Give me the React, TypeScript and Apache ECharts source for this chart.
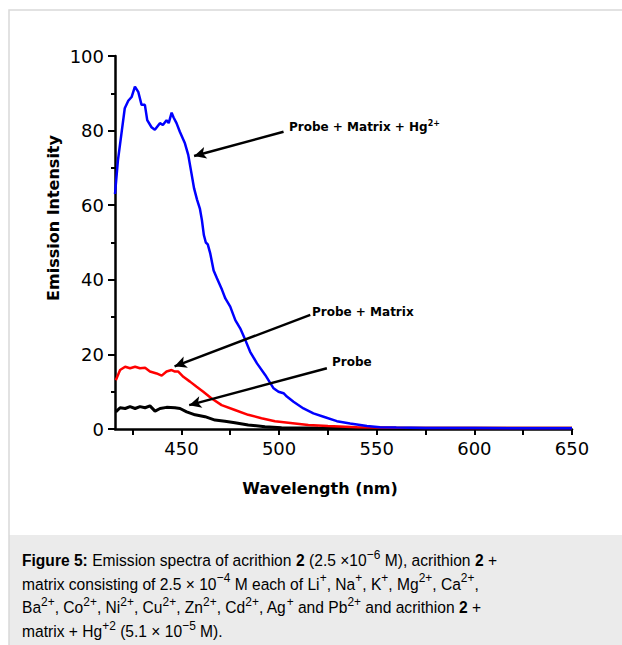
import React, { useEffect, useRef } from "react";
import * as echarts from "echarts";

// Probe + Matrix + Hg2+ (blue)
const hgWavelength = [416, 417.5, 419.5, 421, 422.8, 424.5, 426.2, 427.9, 429.6, 431.3, 432.5, 434.7, 436.4, 439, 440.5, 442.4, 443.5, 445, 446, 447.5, 449.2, 451.8, 453.5, 455, 456.5, 458, 459.5, 460.5, 461.5, 462.5, 463.5, 464.8, 466.5, 468.2, 470.8, 472.5, 475, 477.6, 480.1, 482.7, 485.2, 488.7, 492.9, 497.2, 499.7, 502.3, 504, 507.4, 512.5, 517.6, 522.8, 529.6, 536.4, 545, 551.7, 560, 575, 600, 625, 650];
const hgIntensity = [63, 72, 80, 86, 88, 89, 91.8, 90.4, 86.9, 86.9, 82.8, 80.9, 80.2, 82, 81.5, 82.8, 82, 84.8, 83.5, 82, 79.7, 76.6, 73.5, 69, 64.5, 61.5, 59, 56, 52, 50, 49.5, 47, 42.5, 40.4, 37.3, 35, 32.8, 29.2, 27, 23.9, 20.7, 17.6, 14.5, 10.9, 10, 9.6, 8.7, 7.3, 5.5, 4.2, 3.3, 2.1, 1.5, 0.8, 0.5, 0.4, 0.3, 0.25, 0.2, 0.2];

// Probe + Matrix (red)
const matrixWavelength = [416.4, 418.6, 421.2, 423.7, 426.3, 428.8, 431.4, 433.9, 437.3, 439.9, 442.4, 445, 446.7, 448.4, 451, 454.4, 457.8, 461.2, 465.5, 470.6, 477.4, 484.2, 491, 497.9, 508.1, 515, 525, 540, 560, 600, 650];
const matrixIntensity = [13.1, 15.8, 16.7, 16.3, 16.7, 16.3, 16.4, 15.4, 14.9, 14.3, 15.4, 15.8, 15.4, 15.4, 14, 12.7, 11.3, 10, 8.2, 6.4, 5.1, 3.8, 2.9, 2.1, 1.5, 1.1, 0.8, 0.5, 0.35, 0.3, 0.3];

// Probe (black)
const probeWavelength = [416.4, 418.6, 421.2, 423.7, 426.3, 428.8, 431.4, 433.9, 436.5, 439.1, 442.4, 446.7, 449.3, 452.7, 457, 462.1, 467.2, 472.3, 477.4, 484.2, 492.8, 501.3, 520, 560, 600, 650];
const probeIntensity = [4.6, 5.7, 5.5, 6.0, 5.5, 6.0, 5.7, 6.2, 4.8, 5.5, 5.8, 5.7, 5.5, 4.6, 3.8, 3.3, 2.4, 2.1, 1.7, 1.1, 0.6, 0.35, 0.25, 0.2, 0.2, 0.2];

const xTickValues = [425, 450, 475, 500, 525, 550, 575, 600, 625, 650];
const xLabelValues = [450, 500, 550, 600, 650];

const pairs = (xs: number[], ys: number[]) => xs.map((x, i) => [x, ys[i]]);

const captionLines = [
  "{b|Figure 5:} Emission spectra of acrithion {b|2} (2.5 ×10{s|−6} M), acrithion {b|2} +",
  "matrix consisting of 2.5 × 10{s|−4} M each of Li{s|+}, Na{s|+}, K{s|+}, Mg{s|2+}, Ca{s|2+},",
  "Ba{s|2+}, Co{s|2+}, Ni{s|2+}, Cu{s|2+}, Zn{s|2+}, Cd{s|2+}, Ag{s|+} and Pb{s|2+} and acrithion {b|2} +",
  "matrix + Hg{s|+2} (5.1 × 10{s|−5} M).",
];

const AXIS_FONT = "'DejaVu Sans', sans-serif";
const CAP_FONT = "'Liberation Sans', Arial, sans-serif";

export default function App() {
  const ref = useRef<HTMLDivElement>(null);
  useEffect(() => {
    if (!ref.current) return;
    const chart = echarts.init(ref.current, null, { renderer: "svg" });
    const arrowLine = (from: number[], to: number[]) => [
      { coord: from, symbol: "none" },
      { coord: to, symbol: "arrow", symbolSize: [9, 12] },
    ];
    const annRich = {
      s: { fontSize: 8, fontWeight: "bold", fontFamily: AXIS_FONT, lineHeight: 9, verticalAlign: "top", fill: "#000" },
    };
    chart.setOption({
      animation: false,
      backgroundColor: "#fff",
      grid: { left: 115, right: 50, top: 56, bottom: 216 },
      xAxis: {
        type: "value",
        min: 416,
        max: 650,
        axisLine: { show: true, lineStyle: { color: "#000", width: 2.5 } },
        axisTick: { show: true, length: 6, lineStyle: { color: "#000", width: 2 }, customValues: xTickValues },
        axisLabel: { color: "#000", fontSize: 18, fontFamily: AXIS_FONT, margin: 10, customValues: xLabelValues },
        splitLine: { show: false },
      },
      yAxis: {
        type: "value",
        min: 0,
        max: 100,
        interval: 20,
        axisLine: { show: true, lineStyle: { color: "#000", width: 2.5 } },
        axisTick: { show: true, length: 7, lineStyle: { color: "#000", width: 2 } },
        minorTick: { show: true, splitNumber: 2, length: 4, lineStyle: { color: "#000", width: 2 } },
        axisLabel: { color: "#000", fontSize: 18, fontFamily: AXIS_FONT, margin: 11 },
        splitLine: { show: false },
      },
      series: [
        {
          name: "Probe",
          type: "line",
          data: pairs(probeWavelength, probeIntensity),
          showSymbol: false,
          lineStyle: { color: "#000", width: 3 },
          itemStyle: { color: "#000" },
          silent: true,
        },
        {
          name: "Probe + Matrix",
          type: "line",
          data: pairs(matrixWavelength, matrixIntensity),
          showSymbol: false,
          lineStyle: { color: "#ff0000", width: 2.5 },
          itemStyle: { color: "#ff0000" },
          silent: true,
        },
        {
          name: "Probe + Matrix + Hg2+",
          type: "line",
          data: pairs(hgWavelength, hgIntensity),
          showSymbol: false,
          lineStyle: { color: "#0000ff", width: 2.5 },
          itemStyle: { color: "#0000ff" },
          silent: true,
          markLine: {
            silent: true,
            symbol: ["none", "arrow"],
            label: { show: false },
            lineStyle: { color: "#000", width: 2.5, type: "solid" },
            emphasis: { disabled: true },
            data: [
              arrowLine([502.3, 79.7], [456.5, 73.2]),
              arrowLine([516, 30.6], [446.5, 16.8]),
              arrowLine([524.5, 16.3], [454, 6.4]),
            ],
          },
        },
      ],
      graphic: [
        { type: "rect", z: -10, shape: { x: 9, y: 535, width: 613, height: 110 }, style: { fill: "#ebebeb" } },
        { type: "rect", z: -9, shape: { x: 9, y: 10, width: 640, height: 660 }, style: { fill: "none", stroke: "#d9d9d9", lineWidth: 1.5 } },
        {
          type: "text",
          x: 53,
          y: 218,
          rotation: Math.PI / 2,
          style: { text: "Emission Intensity", fontSize: 16, fontWeight: "bold", fontFamily: AXIS_FONT, fill: "#000", align: "center", verticalAlign: "middle" },
        },
        {
          type: "text",
          x: 320,
          y: 488,
          style: { text: "Wavelength (nm)", fontSize: 16, fontWeight: "bold", fontFamily: AXIS_FONT, fill: "#000", align: "center", verticalAlign: "middle" },
        },
        {
          type: "text",
          x: 289,
          y: 127,
          style: { text: "Probe + Matrix + Hg{s|2+}", rich: annRich, fontSize: 12, fontWeight: "bold", fontFamily: AXIS_FONT, fill: "#000", align: "left", verticalAlign: "middle", lineHeight: 15 },
        },
        {
          type: "text",
          x: 312,
          y: 312,
          style: { text: "Probe + Matrix", fontSize: 12, fontWeight: "bold", fontFamily: AXIS_FONT, fill: "#000", align: "left", verticalAlign: "middle" },
        },
        {
          type: "text",
          x: 332,
          y: 362,
          style: { text: "Probe", fontSize: 12, fontWeight: "bold", fontFamily: AXIS_FONT, fill: "#000", align: "left", verticalAlign: "middle" },
        },
        {
          type: "text",
          x: 22,
          y: 548,
          scaleX: 0.918,
          style: {
            text: captionLines.join("\n"),
            fontSize: 17,
            fontFamily: CAP_FONT,
            fill: "#000",
            align: "left",
            verticalAlign: "top",
            lineHeight: 23.7,
            rich: {
              b: { fontSize: 17, fontWeight: "bold", fontFamily: CAP_FONT, lineHeight: 23.7, fill: "#000" },
              s: { fontSize: 13, fontFamily: CAP_FONT, lineHeight: 17, verticalAlign: "top", fill: "#000" },
            },
          },
        },
      ],
    });
    return () => chart.dispose();
  }, []);
  return <div ref={ref} style={{ position: "absolute", left: 0, top: 0, width: 622, height: 645, background: "#fff" }} />;
}
